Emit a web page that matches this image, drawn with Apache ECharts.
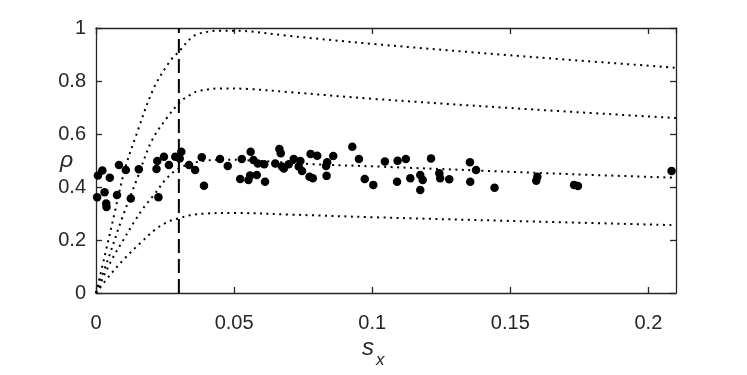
<!DOCTYPE html>
<html>
<head>
<meta charset="utf-8">
<script src="https://cdn.jsdelivr.net/npm/echarts@6/dist/echarts.min.js"></script>
<style>
  html, body { margin: 0; padding: 0; background: #fff; }
  #main { width: 747px; height: 375px; }
</style>
</head>
<body>
<div id="main"></div>
<script>
// tick labels
var xTicks = [0, 0.05, 0.1, 0.15, 0.2];
var yTicks = [0, 0.2, 0.4, 0.6, 0.8, 1];

// dotted model curves [s_x, rho]
var curve1 = [[0, 0], [0.0035, 0.155], [0.0068, 0.305], [0.0104, 0.465], [0.0147, 0.6], [0.0208, 0.77],
  [0.0268, 0.875], [0.0304, 0.915], [0.034, 0.958], [0.037, 0.978], [0.045, 0.99], [0.05, 0.99],
  [0.07, 0.97], [0.1, 0.94], [0.15, 0.897], [0.21, 0.85]];
var curve2 = [[0, 0], [0.0043, 0.125], [0.0092, 0.275], [0.0152, 0.44], [0.0202, 0.575], [0.0256, 0.66],
  [0.0304, 0.72], [0.034, 0.747], [0.037, 0.762], [0.045, 0.772], [0.055, 0.77], [0.07, 0.758],
  [0.1, 0.733], [0.15, 0.698], [0.21, 0.66]];
var curve3 = [[0, 0], [0.0033, 0.074], [0.0063, 0.137], [0.0099, 0.2], [0.0135, 0.263], [0.0171, 0.32],
  [0.0214, 0.376], [0.0256, 0.433], [0.03, 0.47], [0.035, 0.49], [0.04, 0.5], [0.047, 0.503],
  [0.06, 0.498], [0.077, 0.487], [0.1024, 0.477], [0.1413, 0.461], [0.1727, 0.448], [0.21, 0.435]];
var curve4 = [[0, 0], [0.0051, 0.068], [0.0099, 0.125], [0.0159, 0.187], [0.022, 0.244], [0.0268, 0.272],
  [0.0304, 0.283], [0.034, 0.293], [0.04, 0.3], [0.05, 0.302], [0.07, 0.296], [0.1, 0.286],
  [0.15, 0.272], [0.21, 0.256]];

// vertical dashed threshold
var threshold = [[0.03, 0], [0.03, 1]];

// measured points [s_x, rho]
var measured = [
  [0.0007, 0.443], [0.0023, 0.462], [0.005, 0.435], [0.0004, 0.361], [0.0031, 0.38], [0.0037, 0.338],
  [0.0038, 0.325], [0.0076, 0.37], [0.0083, 0.483], [0.0108, 0.464], [0.0126, 0.357], [0.0155, 0.467],
  [0.0222, 0.498], [0.0219, 0.468], [0.0246, 0.514], [0.0264, 0.483], [0.0226, 0.361], [0.0287, 0.514],
  [0.0303, 0.508], [0.0309, 0.533], [0.0337, 0.483], [0.0359, 0.464], [0.0383, 0.512], [0.0391, 0.405],
  [0.0449, 0.506], [0.0477, 0.479], [0.0528, 0.506], [0.0522, 0.43], [0.056, 0.533], [0.057, 0.502],
  [0.0558, 0.443], [0.0552, 0.426], [0.0582, 0.445], [0.0586, 0.489], [0.0609, 0.486], [0.0612, 0.42],
  [0.0649, 0.489], [0.0664, 0.543], [0.0669, 0.527], [0.0673, 0.477], [0.068, 0.47], [0.0698, 0.486],
  [0.0716, 0.506], [0.074, 0.498], [0.0734, 0.477], [0.0746, 0.46], [0.0777, 0.525], [0.0801, 0.518],
  [0.0773, 0.439], [0.0785, 0.433], [0.0837, 0.493], [0.0833, 0.479], [0.0859, 0.517], [0.0835, 0.442],
  [0.0928, 0.552], [0.0952, 0.506], [0.0973, 0.43], [0.1004, 0.408], [0.1046, 0.496], [0.1092, 0.499],
  [0.1122, 0.506], [0.109, 0.42], [0.1138, 0.433], [0.1174, 0.445], [0.1183, 0.426], [0.1174, 0.389],
  [0.1213, 0.508], [0.1243, 0.452], [0.1246, 0.433], [0.1279, 0.429], [0.1354, 0.493], [0.1376, 0.464],
  [0.1355, 0.42], [0.1443, 0.397], [0.1598, 0.439], [0.1594, 0.424], [0.1731, 0.408], [0.1745, 0.404],
  [0.2084, 0.46]
];

var ink = '#262626';
var font = '"Liberation Sans", Arial, Helvetica, sans-serif';

function axisBase(isX, primary) {
  return {
    type: 'value',
    min: 0,
    max: isX ? 0.21 : 1,
    interval: isX ? 0.05 : 0.2,
    position: isX ? (primary ? 'bottom' : 'top') : (primary ? 'left' : 'right'),
    axisLine: { show: true, onZero: false, lineStyle: { color: ink, width: 1.3 } },
    axisTick: { show: true, inside: true, length: 6, lineStyle: { color: ink, width: 1.3 } },
    axisLabel: {
      show: primary,
      color: ink,
      fontSize: 20,
      fontFamily: font,
      margin: isX ? 20 : 10,
      showMaxLabel: !isX,
      formatter: function (v) {
        var list = isX ? xTicks : yTicks;
        for (var i = 0; i < list.length; i++) {
          if (Math.abs(list[i] - v) < 1e-9) return String(list[i]);
        }
        return '';
      }
    },
    splitLine: { show: false }
  };
}

function dotted(data) {
  return {
    type: 'line',
    data: data,
    smooth: 0.35,
    symbol: 'none',
    silent: true,
    lineStyle: { color: '#000', width: 2, type: [2, 4.5] },
    z: 2
  };
}

var chart = echarts.init(document.getElementById('main'));
chart.setOption({
  animation: false,
  backgroundColor: '#fff',
  grid: { left: 96, right: 71, top: 28, bottom: 82 },
  xAxis: [axisBase(true, true), axisBase(true, false)],
  yAxis: [axisBase(false, true), axisBase(false, false)],
  graphic: [
    {
      type: 'text', left: 60, top: 149,
      style: { text: 'ρ', fill: ink, font: 'italic 23px ' + font }
    },
    {
      type: 'text', left: 362, top: 336,
      style: { text: 's', fill: ink, font: 'italic 24px ' + font }
    },
    {
      type: 'text', left: 376, top: 352,
      style: { text: 'x', fill: ink, font: 'italic 17px ' + font }
    }
  ],
  series: [
    dotted(curve1),
    dotted(curve2),
    dotted(curve3),
    dotted(curve4),
    {
      type: 'line',
      data: threshold,
      symbol: 'none',
      silent: true,
      lineStyle: { color: '#000', width: 2, type: [14, 6] },
      z: 3
    },
    {
      type: 'scatter',
      data: measured,
      symbol: 'circle',
      symbolSize: 8.5,
      itemStyle: { color: '#000', opacity: 1 },
      z: 4
    }
  ]
});
</script>
</body>
</html>
